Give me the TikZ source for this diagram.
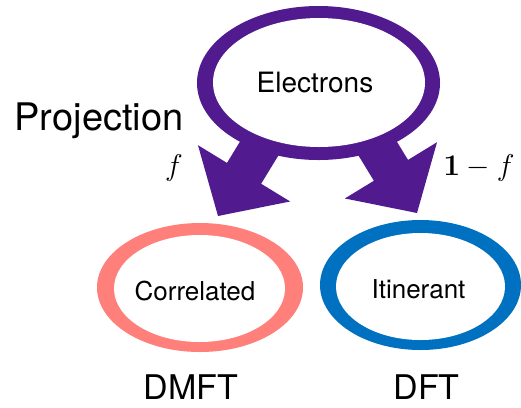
\RequirePackage{fix-cm}
\documentclass[tikz,border=0pt]{standalone}
\usepackage[no-math]{fontspec}
\setmainfont{TeX Gyre Heros}
\usetikzlibrary{shapes.geometric,calc}

\definecolor{elpurple}{RGB}{81,26,143}
\definecolor{corrpink}{RGB}{255,128,122}
\definecolor{itinblue}{RGB}{0,112,192}

\tikzset{
  ring/.style={ellipse,inner sep=0pt,outer sep=0pt},
  hole/.style={ring,fill=white},
  lbl/.style={anchor=base,inner sep=0pt,text=black},
  fsize/.style={font=\fontsize{#1bp}{#1bp}\selectfont},
}

% block arrow from #1 to #2: shaft 40bp wide, head 108bp wide and 50bp long
\newcommand{\blockarrow}[2]{%
  \coordinate (hb) at ($(#2)!50bp!(#1)$);
  \fill[elpurple]
    ($(#1)!20bp!90:(#2)$) --
    ($(hb)!20bp!90:(#2)$) --
    ($(hb)!54bp!90:(#2)$) --
    (#2) --
    ($(hb)!54bp!-90:(#2)$) --
    ($(hb)!20bp!-90:(#2)$) --
    ($(#1)!20bp!-90:(#2)$) -- cycle;
}

\begin{document}
\begin{tikzpicture}[x=1bp,y=-1bp]
\useasboundingbox (0,0) rectangle (521,407);

% ends of the two projection arrows
\coordinate (ls) at (276,121);
\coordinate (lt) at (218,216);
\coordinate (rs) at (359,118);
\coordinate (rt) at (417,213);
\blockarrow{ls}{lt}
\blockarrow{rs}{rt}

% electrons ring
\node[ring,fill=elpurple,minimum width=243bp,minimum height=154bp] (el) at (318.5,83) {};
\node[hole,minimum width=212bp,minimum height=129bp] (el-in) at (319,82.5) {};
\node[lbl,fsize=28] (el-txt) at (315,92) {Electrons};

% correlated ring
\node[ring,fill=corrpink,minimum width=206bp,minimum height=129bp] (corr) at (200,287.5) {};
\node[hole,minimum width=171bp,minimum height=107bp] (corr-in) at (199.5,288.5) {};
\node[lbl,fsize=26] (corr-txt) at (195,300) {Correlated};

% itinerant ring
\node[ring,fill=itinblue,minimum width=201bp,minimum height=130bp] (itin) at (420.5,285) {};
\node[hole,minimum width=169bp,minimum height=107bp] (itin-in) at (420.5,286.5) {};
\node[lbl,fsize=26] (itin-txt) at (418.5,298.3) {Itinerant};

% labels
\node[lbl,fsize=38] (proj) at (99,130) {Projection};
\node[lbl,fsize=30] (fl) at (174,175) {$f$};
\node[lbl,fsize=30] (fr) at (479,175) {$\mathbf{1}-f$};
\node[lbl,fsize=34] (dmft) at (191,399) {DMFT};
\node[lbl,fsize=34] (dft) at (426.5,399) {DFT};
\end{tikzpicture}
\end{document}
